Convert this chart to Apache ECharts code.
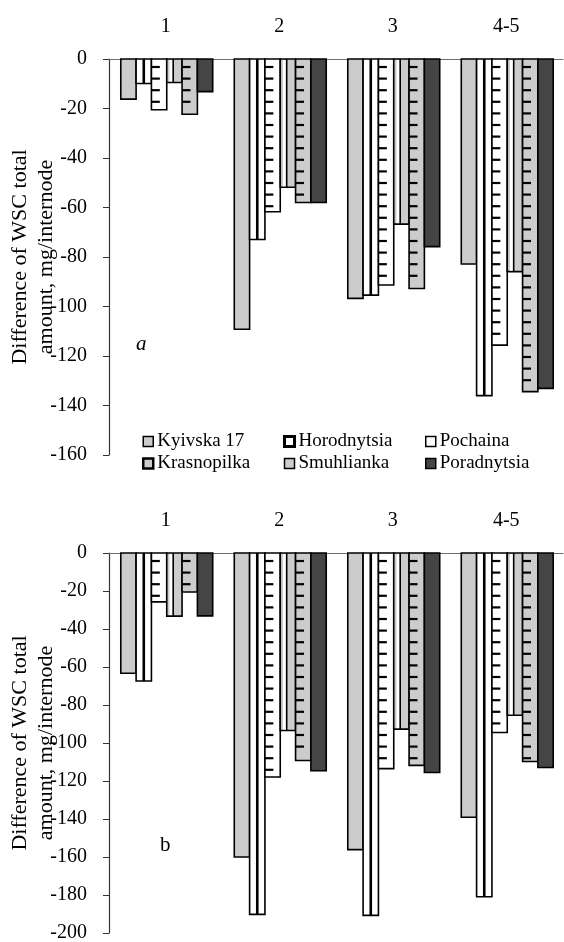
<!DOCTYPE html>
<html><head><meta charset="utf-8">
<script src="https://cdn.jsdelivr.net/npm/echarts@6/dist/echarts.min.js"></script>
<style>html,body{margin:0;padding:0;background:#fff}#c{width:564px;height:942px}</style>
</head><body><div id="c"></div>
<script>
const categories = ['1', '2', '3', '4-5'];
const varieties = ['Kyivska 17', 'Horodnytsia', 'Pochaina', 'Krasnopilka', 'Smuhlianka', 'Poradnytsia'];

// Panel a values (mg/internode)
const kyivskaA     = [-16.2, -109.2, -96.7, -82.8];
const horodnytsiaA = [-9.9, -72.9, -95.4, -136.0];
const pochainaA    = [-20.5, -61.7, -91.3, -115.6];
const krasnopilkaA = [-9.5, -51.8, -66.7, -85.9];
const smuhliankaA  = [-22.3, -58.0, -92.7, -134.4];
const poradnytsiaA = [-13.2, -58.0, -75.8, -133.1];

// Panel b values
const kyivskaB     = [-63.3, -160.0, -156.1, -139.1];
const horodnytsiaB = [-67.4, -190.2, -190.7, -180.9];
const pochainaB    = [-25.7, -117.9, -113.5, -94.5];
const krasnopilkaB = [-33.2, -93.4, -92.7, -85.4];
const smuhliankaB  = [-20.5, -109.2, -111.8, -109.7];
const poradnytsiaB = [-33.1, -114.6, -115.5, -112.9];

const yMinA = -160, yMinB = -200, yMax = 0, yStep = 20;
const yTitle = 'Difference of WSC total\namount, mg/internode';
const panelLabels = ['a', 'b'];

const panelA = [kyivskaA, horodnytsiaA, pochainaA, krasnopilkaA, smuhliankaA, poradnytsiaA];
const panelB = [kyivskaB, horodnytsiaB, pochainaB, krasnopilkaB, smuhliankaB, poradnytsiaB];

const FONT = "'Liberation Serif','Times New Roman',serif";
const GRAY = '#cccccc', DARK = '#454545';
const styles = [
  {fill: GRAY, kind: 'solid', legendBorder: 1.5},
  {fill: '#ffffff', kind: 'vline', legendBorder: 3},
  {fill: '#ffffff', kind: 'dash', legendBorder: 1.5},
  {fill: GRAY, kind: 'vstrip', legendBorder: 2.5},
  {fill: GRAY, kind: 'dash', legendBorder: 1.5},
  {fill: DARK, kind: 'solid', legendBorder: 1.5}
];

const GROUP_FRAC = 0.81;
function makeRender(si) {
  const st = styles[si];
  return function (params, api) {
    const cat = api.value(0), val = api.value(1);
    const base = api.coord([cat, 0]);
    const tip = api.coord([cat, val]);
    const band = api.size([1, 0])[0];
    const gw = band * GROUP_FRAC;
    const bw = gw / 6;
    const x = base[0] - gw / 2 + si * bw + 1;
    const y0 = base[1], y1 = tip[1];
    const h = y1 - y0;
    const children = [{
      type: 'rect', shape: {x: x, y: y0, width: bw, height: h},
      style: {fill: st.fill, stroke: '#000', lineWidth: 1.6}
    }];
    if (st.kind === 'vline') {
      children.push({type: 'line', shape: {x1: x + bw / 2, y1: y0, x2: x + bw / 2, y2: y1},
        style: {stroke: '#000', lineWidth: 2.6}});
    } else if (st.kind === 'vstrip') {
      children.push({type: 'rect', shape: {x: x + bw * 0.18, y: y0 + 1, width: bw * 0.22, height: h - 2},
        style: {fill: '#fff'}});
      children.push({type: 'line', shape: {x1: x + bw * 0.42, y1: y0, x2: x + bw * 0.42, y2: y1},
        style: {stroke: '#000', lineWidth: 1.6}});
    } else if (st.kind === 'dash') {
      for (let y = y0 + 8; y < y1 - 3; y += 11.6) {
        children.push({type: 'line', shape: {x1: x, y1: y, x2: x + bw * 0.55, y2: y},
          style: {stroke: '#000', lineWidth: 2.2}});
      }
    }
    return {type: 'group', children: children};
  };
}

const series = [];
[panelA, panelB].forEach((panel, pi) => {
  panel.forEach((vals, si) => {
    series.push({
      type: 'custom', name: varieties[si], xAxisIndex: pi, yAxisIndex: pi,
      itemStyle: {color: styles[si].fill},
      renderItem: makeRender(si),
      encode: {x: 0, y: 1},
      data: vals.map((v, i) => [i, v]),
      z: 2
    });
  });
});

function xAxis(gi) {
  return {
    type: 'category', gridIndex: gi, data: categories, position: 'top',
    axisLine: {lineStyle: {color: '#6e6e6e', width: 1.2}},
    axisTick: {inside: true, length: 5, lineStyle: {color: '#6e6e6e'}},
    axisLabel: {color: '#000', fontFamily: FONT, fontSize: 20, margin: 22},
    splitLine: {show: false}
  };
}
function yAxis(gi, min) {
  return {
    type: 'value', gridIndex: gi, min: min, max: yMax, interval: yStep,
    axisLine: {show: true, lineStyle: {color: '#333', width: 1.2}},
    axisTick: {show: true, length: 6, lineStyle: {color: '#333'}},
    axisLabel: {color: '#000', fontFamily: FONT, fontSize: 20, margin: 22},
    splitLine: {show: false},
    name: yTitle, nameLocation: 'middle', nameRotate: 90, nameGap: 50,
    nameMoveOverlap: false,
    nameTextStyle: {color: '#000', fontFamily: FONT, fontSize: 22, lineHeight: 26}
  };
}

const legendCols = [[0, 3], [1, 4], [2, 5]];
const legendLeft = [142, 283, 425];
const legends = legendCols.map((idx, c) => ({
  orient: 'vertical', left: legendLeft[c], top: 432, padding: 0,
  itemWidth: 10, itemHeight: 10, itemGap: 3, icon: 'rect',
  textStyle: {color: '#000', fontFamily: FONT, fontSize: 19, padding: [0, 0, 0, -1]},
  data: idx.map(i => ({
    name: varieties[i],
    itemStyle: {color: styles[i].fill, borderColor: '#000', borderWidth: styles[i].legendBorder}
  })),
  selectedMode: false
}));

const chart = echarts.init(document.getElementById('c'), null, {renderer: 'canvas'});
chart.setOption({
  animation: false,
  backgroundColor: '#fff',
  grid: [
    {left: 109, top: 59, width: 454, height: 396, containLabel: false, outerBoundsMode: 'none'},
    {left: 109, top: 553, width: 454, height: 380, containLabel: false, outerBoundsMode: 'none'}
  ],
  xAxis: [xAxis(0), xAxis(1)],
  yAxis: [yAxis(0, yMinA), yAxis(1, yMinB)],
  legend: legends,
  series: series,
  graphic: [
    {type: 'text', left: 136, top: 334, style: {text: panelLabels[0], fontFamily: FONT, fontSize: 21, fontStyle: 'italic', fill: '#000'}},
    {type: 'text', left: 160, top: 835, style: {text: panelLabels[1], fontFamily: FONT, fontSize: 21, fill: '#000'}}
  ]
});
</script></body></html>
